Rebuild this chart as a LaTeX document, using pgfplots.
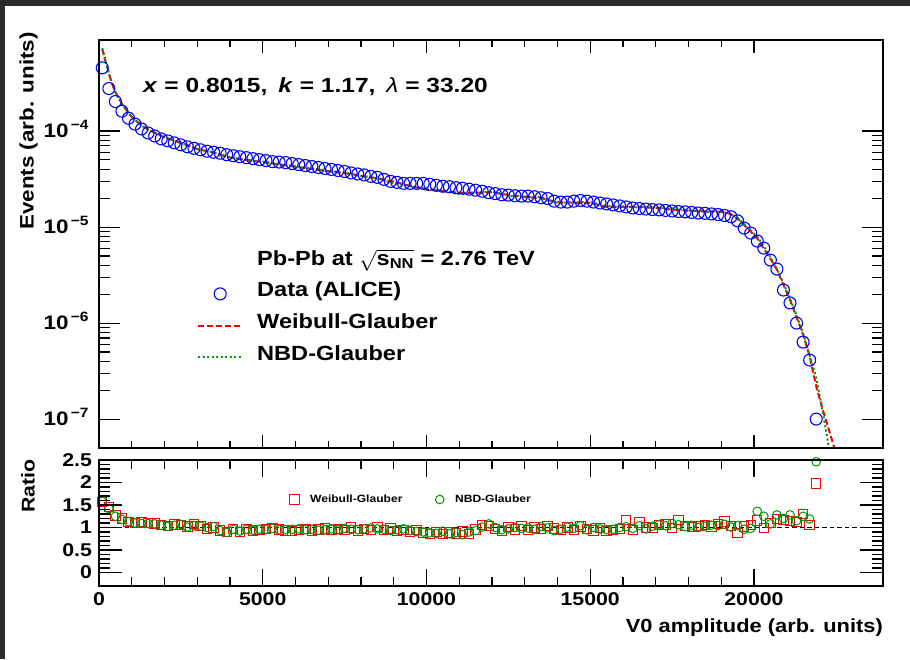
\documentclass[border=0pt]{standalone}
\usepackage{fontspec}
\setmainfont{Liberation Sans}[FakeStretch=1.15]
\usepackage{pgfplots}
\usepackage{pgfplotstable}
\pgfplotsset{compat=1.18}
\definecolor{rootgreen}{rgb}{0,0.6,0}
\definecolor{darkbg}{rgb}{0.17,0.17,0.17}
\newcommand{\fs}[1]{\fontsize{#1}{#1}\selectfont\bfseries}

% x, data, ratio Weibull-Glauber, ratio NBD-Glauber
\pgfplotstableread{
x y rW rN
100 4.55e-4 1.57 1.58
300 2.77e-4 1.45 1.42
500 2.03e-4 1.27 1.25
700 1.61e-4 1.20 1.18
900 1.36e-4 1.12 1.13
1100 1.18e-4 1.10 1.10
1300 1.05e-4 1.12 1.09
1500 9.54e-5 1.10 1.09
1700 8.89e-5 1.09 1.08
1900 8.28e-5 1.05 1.05
2100 7.89e-5 1.03 1.02
2300 7.53e-5 1.07 1.05
2500 7.18e-5 1.06 1.07
2700 6.85e-5 1.02 1.01
2900 6.61e-5 1.08 1.04
3100 6.38e-5 1.03 1.03
3300 6.16e-5 0.97 1.00
3500 6.01e-5 1.00 1.02
3700 5.87e-5 0.93 0.93
3900 5.67e-5 0.90 0.89
4100 5.53e-5 0.97 0.96
4300 5.40e-5 0.90 0.92
4500 5.28e-5 0.97 0.96
4700 5.16e-5 0.93 0.94
4900 5.04e-5 0.95 0.96
5100 4.92e-5 0.97 0.96
5300 4.80e-5 0.99 0.98
5500 4.75e-5 0.96 0.95
5700 4.69e-5 0.93 0.95
5900 4.58e-5 0.92 0.96
6100 4.47e-5 0.95 0.97
6300 4.37e-5 0.97 0.95
6500 4.27e-5 0.93 0.96
6700 4.17e-5 0.96 0.94
6900 4.07e-5 0.98 0.95
7100 3.98e-5 0.94 0.97
7300 3.88e-5 0.97 0.95
7500 3.79e-5 0.95 0.98
7700 3.66e-5 1.00 0.96
7900 3.57e-5 0.93 0.95
8100 3.49e-5 0.97 0.97
8300 3.37e-5 0.95 0.99
8500 3.29e-5 1.01 0.97
8700 3.14e-5 0.95 0.96
8900 2.99e-5 0.98 0.93
9100 2.92e-5 0.92 0.95
9300 2.85e-5 0.94 0.97
9500 2.85e-5 0.90 0.93
9700 2.85e-5 0.95 0.91
9900 2.85e-5 0.88 0.90
10100 2.79e-5 0.86 0.88
10300 2.72e-5 0.90 0.87
10500 2.66e-5 0.85 0.92
10700 2.63e-5 0.89 0.86
10900 2.57e-5 0.87 0.89
11100 2.54e-5 0.91 0.84
11300 2.48e-5 0.86 0.90
11500 2.42e-5 0.96 0.93
11700 2.36e-5 1.05 1.01
11900 2.28e-5 1.03 1.08
12100 2.23e-5 0.97 1.00
12300 2.17e-5 0.92 0.95
12500 2.15e-5 1.01 0.97
12700 2.12e-5 0.96 1.00
12900 2.10e-5 1.03 0.98
13100 2.10e-5 0.94 0.99
13300 2.07e-5 1.00 0.96
13500 2.02e-5 0.97 1.02
13700 1.98e-5 1.04 0.99
13900 1.86e-5 0.98 0.93
14100 1.82e-5 0.94 0.96
14300 1.82e-5 1.00 1.01
14500 1.86e-5 0.95 0.98
14700 1.89e-5 1.02 1.04
14900 1.86e-5 0.97 0.95
15100 1.82e-5 0.93 1.00
15300 1.78e-5 0.99 0.97
15500 1.74e-5 0.92 0.95
15700 1.70e-5 0.94 0.96
15900 1.66e-5 0.97 1.00
16100 1.62e-5 1.17 1.02
16300 1.58e-5 0.95 0.98
16500 1.56e-5 1.11 1.04
16700 1.54e-5 1.00 0.97
16900 1.52e-5 0.99 1.03
17100 1.51e-5 1.05 1.06
17300 1.49e-5 1.07 1.04
17500 1.47e-5 0.99 1.09
17700 1.45e-5 1.17 1.06
17900 1.44e-5 1.04 1.02
18100 1.42e-5 1.01 1.05
18300 1.40e-5 1.04 1.00
18500 1.39e-5 1.06 1.03
18700 1.37e-5 1.02 1.05
18900 1.35e-5 1.08 1.04
19100 1.32e-5 1.13 1.07
19300 1.28e-5 1.03 1.01
19500 1.16e-5 0.88 1.04
19700 9.76e-6 1.02 0.96
19900 8.66e-6 1.05 0.98
20100 7.15e-6 1.16 1.36
20300 6.04e-6 0.99 1.25
20500 4.53e-6 1.10 1.08
20700 3.65e-6 1.19 1.28
20900 2.21e-6 1.17 1.20
21100 1.62e-6 1.15 1.28
21300 1.00e-6 1.12 1.15
21500 6.34e-7 1.30 1.25
21700 4.12e-7 1.06 1.19
21900 1.00e-7 1.98 2.46
}\datatable

\pgfplotstableread{
x y
100 7.1e-4
200 5.3e-4
300 4.0e-4
400 3.1e-4
500 2.55e-4
700 1.93e-4
900 1.53e-4
1100 1.30e-4
1300 1.16e-4
1500 1.04e-4
1700 9.6e-5
2000 8.6e-5
2500 7.5e-5
3000 6.5e-5
3500 5.95e-5
4000 5.3e-5
4500 5.0e-5
5000 4.75e-5
5500 4.5e-5
6000 4.25e-5
6500 4.03e-5
7000 3.82e-5
7500 3.64e-5
8000 3.42e-5
8500 3.22e-5
9000 2.98e-5
9500 2.68e-5
10000 2.45e-5
10500 2.38e-5
11000 2.27e-5
11500 2.28e-5
12000 2.30e-5
12500 2.16e-5
13000 2.06e-5
13500 2.00e-5
14000 1.81e-5
14500 1.79e-5
15000 1.78e-5
15500 1.62e-5
16000 1.62e-5
16500 1.62e-5
17000 1.58e-5
17500 1.52e-5
18000 1.48e-5
18500 1.46e-5
19000 1.45e-5
19300 1.36e-5
19500 1.22e-5
19700 1.05e-5
19900 9.0e-6
20100 7.6e-6
20300 5.95e-6
20500 4.7e-6
20700 3.6e-6
20900 2.5e-6
21100 1.75e-6
21300 1.15e-6
21500 7.6e-7
21700 4.5e-7
21900 2.2e-7
22100 1.25e-7
22260 8.3e-8
22443 5.14e-8
22600 3.4e-8
}\weibull

\pgfplotstableread{
x y
100 7.3e-4
200 5.4e-4
300 3.95e-4
400 3.1e-4
500 2.54e-4
700 1.90e-4
900 1.54e-4
1100 1.30e-4
1300 1.14e-4
1500 1.04e-4
1700 9.6e-5
2000 8.6e-5
2500 7.6e-5
3000 6.5e-5
3500 6.0e-5
4000 5.3e-5
4500 5.0e-5
5000 4.8e-5
5500 4.5e-5
6000 4.3e-5
6500 4.08e-5
7000 3.84e-5
7500 3.7e-5
8000 3.42e-5
8500 3.2e-5
9000 2.85e-5
9500 2.68e-5
10000 2.5e-5
10500 2.38e-5
11000 2.2e-5
11500 2.25e-5
12000 2.35e-5
12500 2.1e-5
13000 2.08e-5
13500 2.04e-5
14000 1.78e-5
14500 1.82e-5
15000 1.82e-5
15500 1.66e-5
16000 1.64e-5
16500 1.60e-5
17000 1.60e-5
17500 1.57e-5
18000 1.49e-5
18500 1.44e-5
19000 1.43e-5
19300 1.37e-5
19500 1.25e-5
19700 1.07e-5
19900 9.2e-6
20100 7.9e-6
20300 6.3e-6
20500 4.9e-6
20700 3.7e-6
20900 2.6e-6
21100 1.8e-6
21300 1.2e-6
21500 7.8e-7
21700 4.6e-7
21900 2.7e-7
22100 1.2e-7
22290 5.0e-8
22400 3.0e-8
}\nbd

\pgfplotsset{
  rootaxis/.style={
    scale only axis, width=784pt, xmin=0, xmax=23940,
    tick align=inside, xtick pos=both, ytick pos=both,
    axis line style={line width=1.5pt},
    every tick/.style={black, line width=1.1pt},
    /pgf/number format/assume math mode=true,
    /pgf/number format/1000 sep={},
    scaled x ticks=false, scaled y ticks=false,
  },
  lineleg/.style={legend image code/.code={\draw[##1] (0pt,0pt) -- (44pt,0pt);}},
  markleg/.style={legend image code/.code={\draw[##1] plot coordinates {(0pt,0pt)};}},
  markmidleg/.style={legend image code/.code={\draw[##1] plot coordinates {(22pt,0pt)};}},
}

\begin{document}
\begin{tikzpicture}[x=1pt,y=1pt]
\fill[white] (0,0) rectangle (910,659);
\fill[darkbg] (0,0) rectangle (5,659);
\fill[darkbg] (0,653) rectangle (910,659);

% ---------- top panel: data + x ticks ----------
\begin{axis}[rootaxis, at={(99pt,211pt)}, anchor=south west, height=408pt,
  ymode=log, ymin=5e-8, ymax=8.87e-4,
  xtick={0,5000,10000,15000,20000}, minor x tick num=4, xticklabels={},
  major tick length=13pt, minor tick length=7pt,
  ytick=\empty, yminorticks=false,
  legend cell align=left,
  legend style={at={(0.125,0.478)}, anchor=north west, draw=none, fill=none,
    inner sep=0pt, row sep=13.7pt, column sep=14pt, font=\fs{20.5},
    nodes={inner sep=0pt, text height=12pt, text depth=6pt}},
]
\addlegendimage{empty legend}
\addlegendentry{Pb-Pb at $\sqrt{\mbox{\fs{20.5}s\textsubscript{NN}}}$ = 2.76 TeV}
\addplot[only marks, mark=o, blue, mark size=6pt, line width=1.1pt, markmidleg]
  table[x=x, y=y] {\datatable};
\addlegendentry{Data (ALICE)}
\addplot[red, line width=2pt, dash pattern=on 6pt off 3pt, mark=none, lineleg]
  table[x=x, y=y] {\weibull};
\addlegendentry{Weibull-Glauber}
\addplot[rootgreen, line width=2pt, dash pattern=on 2pt off 2.5pt, mark=none, lineleg]
  table[x=x, y=y] {\nbd};
\addlegendentry{NBD-Glauber}
\end{axis}

% ---------- top panel: y ticks ----------
\begin{axis}[rootaxis, at={(99pt,211pt)}, anchor=south west, height=408pt,
  ymode=log, ymin=5e-8, ymax=8.87e-4,
  xtick=\empty, xminorticks=false,
  ytickten={-7,-6,-5,-4},
  major tick length=21pt, minor tick length=11pt,
  yticklabel={\pgfmathtruncatemacro\ee{round(-\tick/2.302585)}\fs{19.5}10\raisebox{0.42em}{\fs{13.5}\,−\ee}},
  yticklabel style={xshift=-7pt, yshift=2pt},
]
\addplot[draw=none, forget plot] coordinates {(1000,1e-5)};
\end{axis}

% ---------- bottom panel: data + x ticks ----------
\begin{axis}[rootaxis, at={(99pt,73pt)}, anchor=south west, height=126pt,
  ymin=-0.3, ymax=2.5,
  xtick={0,5000,10000,15000,20000}, minor x tick num=4,
  xticklabel style={font=\fs{18.5}, yshift=-3pt},
  major tick length=17pt, minor tick length=9pt,
  ytick=\empty, yminorticks=false,
  legend columns=2, legend cell align=left,
  legend style={at={(0.243,0.686)}, anchor=west, draw=none, fill=none,
    inner sep=0pt, column sep=11pt, font=\fs{10.5},
    nodes={inner sep=0pt, text height=8pt, text depth=2pt},
    /tikz/every even column/.append style={column sep=33pt}},
]
\addplot[black, line width=1.6pt, dash pattern=on 4.5pt off 3pt, forget plot]
  coordinates {(100,1) (23940,1)};
\addplot[only marks, mark=square, red, mark size=4.7pt, line width=1pt, markleg]
  table[x=x, y=rW] {\datatable};
\addlegendentry{Weibull-Glauber}
\addplot[only marks, mark=o, rootgreen, mark size=4.3pt, line width=1pt, markleg]
  table[x=x, y=rN] {\datatable};
\addlegendentry{NBD-Glauber}
\end{axis}

% ---------- bottom panel: y ticks ----------
\begin{axis}[rootaxis, at={(99pt,73pt)}, anchor=south west, height=126pt,
  ymin=-0.3, ymax=2.5,
  xtick=\empty, xminorticks=false,
  ytick={0,0.5,1,1.5,2,2.5}, yticklabels={0,0.5,1,1.5,2,2.5},
  minor y tick num=4,
  major tick length=23pt, minor tick length=11pt,
  yticklabel style={font=\fs{18.5}, xshift=-3.5pt},
]
\addplot[draw=none, forget plot] coordinates {(1000,1)};
\end{axis}

% ---------- titles and annotations ----------
\node[anchor=west, inner sep=0pt, font=\fs{20.5}] at (143,572)
  {\scalebox{1.04}[1]{\textit{x} = 0.8015,\hspace{4pt} \textit{k} = 1.17,\hspace{4pt} {\mdseries\itshape λ} = 33.20}};
\node[anchor=east, inner sep=0pt, font=\fs{19}] at (883,31) {V0 amplitude (arb. units)};
\node[rotate=90, font=\fs{19.5}] at (28.5,528) {Events (arb. units)};
\node[rotate=90, font=\fs{18.5}] at (28,173) {Ratio};
\end{tikzpicture}
\end{document}
